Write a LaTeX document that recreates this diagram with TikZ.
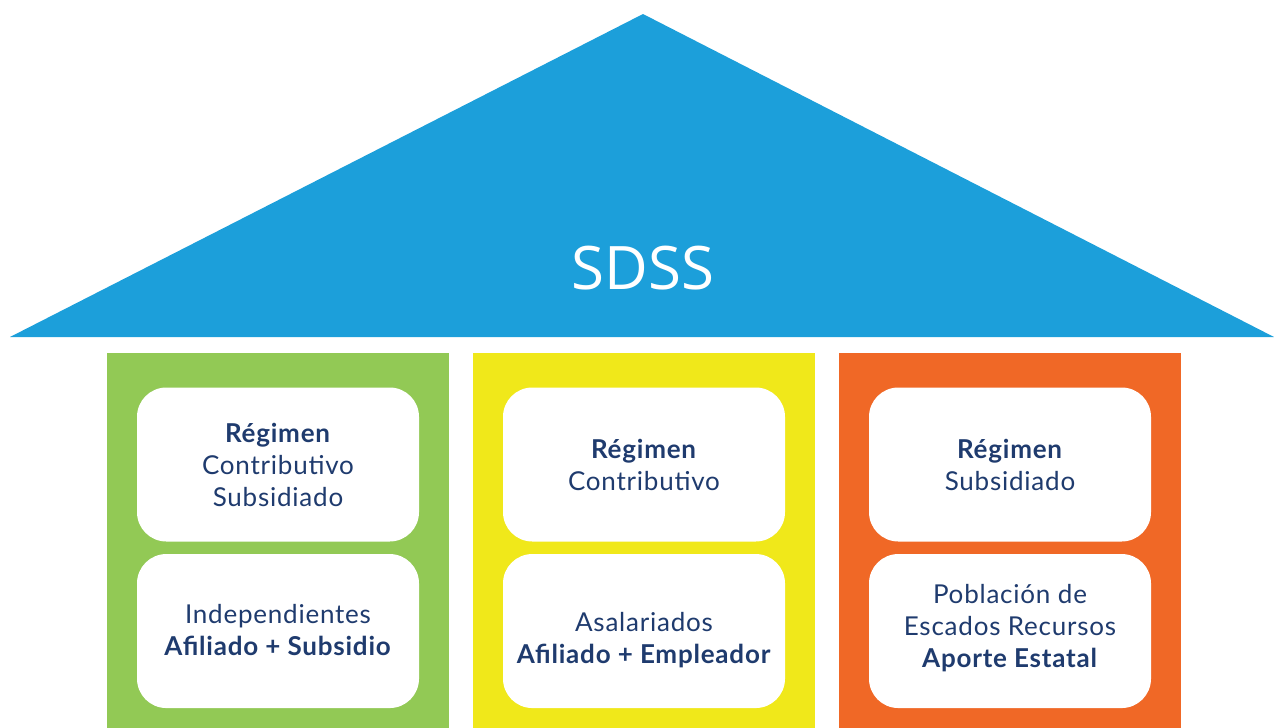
\documentclass[tikz,border=0pt]{standalone}
\usepackage{fontspec}
\setmainfont{Lato}[LetterSpace=3]
\newfontfamily\roofffont{Open Sans}
\usetikzlibrary{positioning}
\definecolor{roofblue}{HTML}{1C9FDA}
\definecolor{colgreen}{HTML}{92C955}
\definecolor{colyellow}{HTML}{F0E81A}
\definecolor{colorange}{HTML}{F06826}
\definecolor{navytext}{HTML}{1F3B6E}

\begin{document}
\begin{tikzpicture}[
        x=0.75pt, y=-0.75pt,
        node distance=9pt,
        pillar/.style={rectangle, inner sep=0pt, minimum width=256.5pt, minimum height=281.25pt},
        card/.style={rectangle, fill=white, rounded corners=22pt, inner sep=0pt,
                     minimum width=211.5pt, minimum height=115.5pt},
        cardtext/.style={align=center, text=navytext, font=\fontsize{19.5}{24}\selectfont}
    ]
        \useasboundingbox (0,0) rectangle (1274,728);

        % roof
        \fill[roofblue] (10,337) -- (643,14) -- (1274,337) -- cycle;
        \node[text=white, font=\roofffont\fontsize{45}{50}\selectfont] (sdss) at (643,268) {SDSS};

        % pillars
        \node[pillar, fill=colgreen] (green) at (278,540.5) {};
        \node[pillar, fill=colyellow] (yellow) at (643.5,540.5) {};
        \node[pillar, fill=colorange] (orange) at (1009.5,540.5) {};

        % cards
        \node[card] (greentop) at (278,464.5) {};
        \node[card, below=of greentop] (greenbot) {};
        \node[card] (yellowtop) at (644,464.5) {};
        \node[card, below=of yellowtop] (yellowbot) {};
        \node[card] (orangetop) at (1010,464.5) {};
        \node[card, below=of orangetop] (orangebot) {};

        % card texts
        \node[cardtext] at (greentop) {\textbf{Régimen}\\Contributivo\\Subsidiado};
        \node[cardtext] at ([yshift=1pt]greenbot) {Independientes\\\textbf{Afiliado + Subsidio}};
        \node[cardtext] at (yellowtop) {\textbf{Régimen}\\Contributivo};
        \node[cardtext] at ([yshift=-7pt]yellowbot) {Asalariados\\\textbf{Afiliado + Empleador}};
        \node[cardtext] at (orangetop) {\textbf{Régimen}\\Subsidiado};
        \node[cardtext] at ([yshift=2pt]orangebot) {Población de\\Escados Recursos\\\textbf{Aporte Estatal}};
    \end{tikzpicture}
\end{document}
